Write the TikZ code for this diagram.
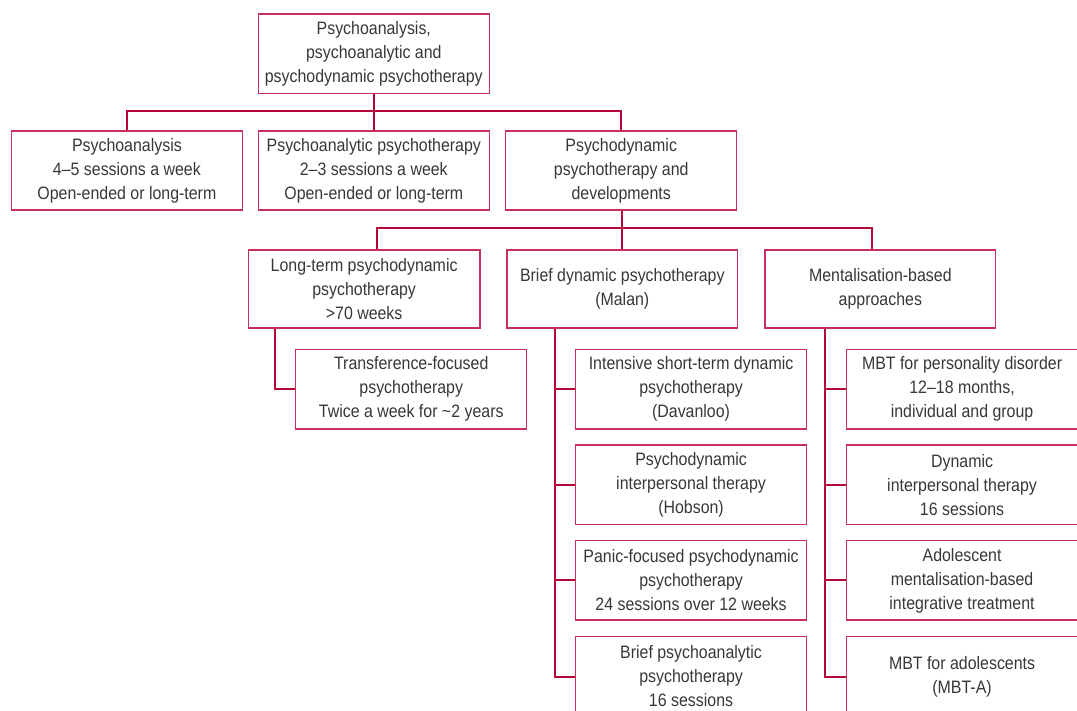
\documentclass[tikz,border=0pt]{standalone}
\usepackage{fontspec}
\setmainfont{Liberation Sans}[FakeStretch=0.885]
\definecolor{linkc}{RGB}{180,8,58}
\definecolor{boxc}{RGB}{200,48,92}
\definecolor{txtc}{RGB}{55,55,55}
\tikzset{
  tbox/.style={draw=boxc, line width=1.3pt, inner sep=0pt, align=center,
    text=txtc, font=\fontsize{18}{24}\selectfont},
  link/.style={draw=linkc, line width=2pt}
}
% box from its corners (x1,y1) to (x2,y2), pixel-like units, y downwards
\newcommand\placebox[6]{%
  \node[tbox, minimum width={(#4)-(#2)}, minimum height={(#5)-(#3)}]
    (#1) at ({((#2)+(#4))/2},{((#3)+(#5))/2}) {#6};}
\begin{document}
\begin{tikzpicture}[x=1pt,y=-1pt]
\useasboundingbox (0,0) rectangle (1077,711);

% top level
\placebox{root}{258.3}{14}{489.3}{93.3}{Psychoanalysis,\\psychoanalytic and\\psychodynamic psychotherapy}

% second level
\placebox{pa}{11.5}{131}{242.3}{210}{Psychoanalysis\\4–5 sessions a week\\Open-ended or long-term}
\placebox{pap}{258.3}{131}{489.3}{210}{Psychoanalytic psychotherapy\\2–3 sessions a week\\Open-ended or long-term}
\placebox{pdp}{505.7}{131}{736.7}{210}{Psychodynamic\\psychotherapy and\\developments}

% third level
\placebox{lt}{248.3}{250}{480}{328}{Long-term psychodynamic\\psychotherapy\\>70 weeks}
\placebox{bd}{506.9}{250}{737.7}{328}{Brief dynamic psychotherapy\\(Malan)}
\placebox{mb}{765}{250}{995.7}{328}{Mentalisation-based\\approaches}

% long-term branch
\placebox{tf}{295.7}{349.3}{526.8}{429}{Transference-focused\\psychotherapy\\Twice a week for \textasciitilde2 years}

% brief dynamic branch
\placebox{bd1}{575.7}{349.3}{806.4}{429}{Intensive short-term dynamic\\psychotherapy\\(Davanloo)}
\placebox{bd2}{575.7}{445}{806.4}{524.3}{Psychodynamic\\interpersonal therapy\\(Hobson)}
\placebox{bd3}{575.7}{540.7}{806.4}{620}{Panic-focused psychodynamic\\psychotherapy\\24 sessions over 12 weeks}
\placebox{bd4}{575.7}{636.7}{806.4}{716.3}{Brief psychoanalytic\\psychotherapy\\16 sessions}

% mentalisation branch
\placebox{mb1}{846.7}{349.3}{1077.4}{429}{MBT for personality disorder\\12–18 months,\\individual and group}
\placebox{mb2}{846.7}{445}{1077.4}{524.3}{Dynamic\\interpersonal therapy\\16 sessions}
\placebox{mb3}{846.7}{540.7}{1077.4}{620}{Adolescent\\mentalisation-based\\integrative treatment}
\placebox{mb4}{846.7}{636.7}{1077.4}{716.3}{MBT for adolescents\\(MBT-A)}

% connectors: first split
\draw[link] (root.south) -- (pap.north);
\draw[link] (pa.north) -- ++(0,-19) -| (pdp.north);

% connectors: second split
\draw[link] (bd.north) -- (bd.north |- pdp.south);
\draw[link] ([xshift=12.5pt]lt.north) -- ++(0,-21) -| ([xshift=-8.7pt]mb.north);

% connectors: long-term branch
\draw[link] ([xshift=27pt]lt.south west) |- (tf.west);

% connectors: brief dynamic branch
\coordinate (bdv) at ([xshift=49pt]bd.south west);
\draw[link] (bdv) |- (bd4.west);
\foreach \i in {1,2,3} \draw[link] (bd\i.west) -- (bd\i.west -| bdv);

% connectors: mentalisation branch
\coordinate (mbv) at ([xshift=60.7pt]mb.south west);
\draw[link] (mbv) |- (mb4.west);
\foreach \i in {1,2,3} \draw[link] (mb\i.west) -- (mb\i.west -| mbv);
\end{tikzpicture}
\end{document}
